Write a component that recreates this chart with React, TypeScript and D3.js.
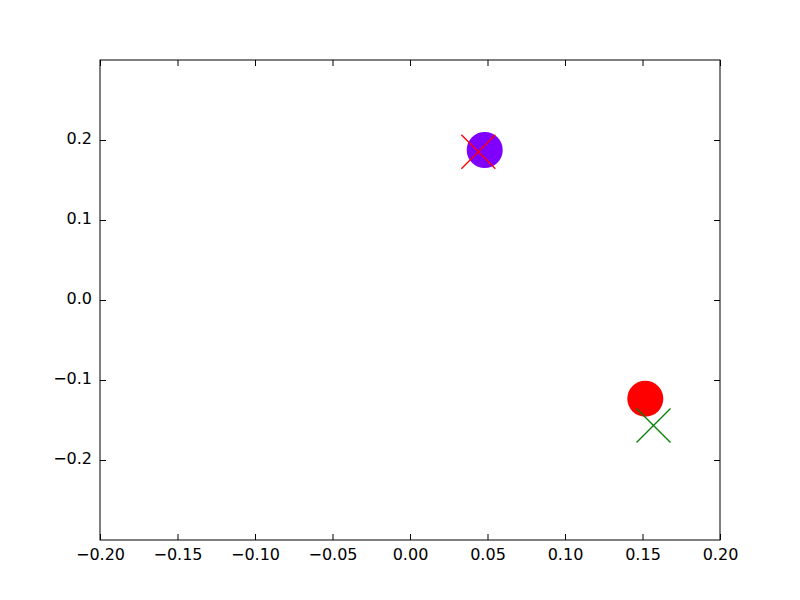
import React, {useEffect, useRef} from 'react';
import * as d3 from 'd3';

// filled points (x, y, colour)
const dotX = [0.0482, 0.1518];
const dotY = [0.1875, -0.1234];
const dotColors = ['#7f00ff', '#ff0000'];

// cross markers
const crossX = [0.0441, 0.1571];
const crossY = [0.1853, -0.1569];
const crossColors = ['#ff0000', '#008000'];

const xTicks = [-0.2, -0.15, -0.1, -0.05, 0, 0.05, 0.1, 0.15, 0.2];
const yTicks = [-0.2, -0.1, 0, 0.1, 0.2];

const width = 800;
const height = 600;
const margin = {left: 100, right: 80, top: 60, bottom: 60};

const fmtMinus = (s: string) => s.replace('-', '\u2212');

export default function App() {
    const xAxisB = useRef<SVGGElement>(null);
    const xAxisT = useRef<SVGGElement>(null);
    const yAxisL = useRef<SVGGElement>(null);
    const yAxisR = useRef<SVGGElement>(null);

    const drawWidth = width - margin.left - margin.right;
    const drawHeight = height - margin.top - margin.bottom;

    const xScale = d3.scaleLinear().domain([-0.2, 0.2]).range([0, drawWidth]);
    const yScale = d3.scaleLinear().domain([-0.3, 0.3]).range([drawHeight, 0]);

    useEffect(() => {
        const tickLen = 6;
        const bottom = d3.axisBottom(xScale).tickValues(xTicks)
            .tickSizeInner(-tickLen).tickSizeOuter(0).tickPadding(9)
            .tickFormat((d) => fmtMinus(d3.format('.2f')(d as number)));
        const top = d3.axisTop(xScale).tickValues(xTicks)
            .tickSizeInner(-tickLen).tickSizeOuter(0).tickFormat(() => '');
        const left = d3.axisLeft(yScale).tickValues(yTicks)
            .tickSizeInner(-tickLen).tickSizeOuter(0).tickPadding(8)
            .tickFormat((d) => fmtMinus(d3.format('.1f')(d as number)));
        const right = d3.axisRight(yScale).tickValues(yTicks)
            .tickSizeInner(-tickLen).tickSizeOuter(0).tickFormat(() => '');

        [[xAxisB, bottom], [xAxisT, top], [yAxisL, left], [yAxisR, right]].forEach(([ref, ax]: any) => {
            const g = d3.select(ref.current);
            g.call(ax);
            g.attr('font-size', 16).attr('font-family', 'DejaVu Sans');
            g.select('.domain').remove();
            g.selectAll('line').attr('stroke', '#000');
            g.selectAll('text').attr('fill', '#000');
        });
        // matplotlib centres the digits a little higher than d3 does
        d3.select(yAxisL.current).selectAll('text').attr('dy', '0.2em');
    }, []);

    const s = 17;

    return (
        <svg width={width} height={height} style={{position: 'absolute', left: 0, top: 0}}>
            <rect width={width} height={height} fill="#fff" />
            <g transform={`translate(${margin.left}, ${margin.top})`}>
                {dotX.map((x, i) => (
                    <circle key={'d' + i} cx={xScale(x)} cy={yScale(dotY[i])} r={18} fill={dotColors[i]} />
                ))}
                {crossX.map((x, i) => {
                    const cx = xScale(x);
                    const cy = yScale(crossY[i]);
                    return (
                        <path key={'c' + i}
                            d={`M${cx - s},${cy - s}L${cx + s},${cy + s}M${cx - s},${cy + s}L${cx + s},${cy - s}`}
                            stroke={crossColors[i]} strokeWidth={1.3} fill="none" />
                    );
                })}
                <rect x={0} y={0} width={drawWidth} height={drawHeight} fill="none" stroke="#000" strokeWidth={1} />
                <g ref={xAxisB} transform={`translate(0, ${drawHeight})`} />
                <g ref={xAxisT} />
                <g ref={yAxisL} />
                <g ref={yAxisR} transform={`translate(${drawWidth}, 0)`} />
            </g>
        </svg>
    );
}
